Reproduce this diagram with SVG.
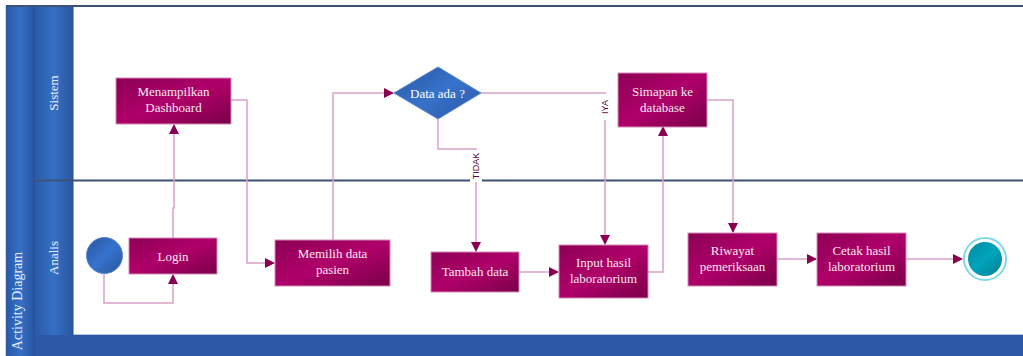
<svg xmlns="http://www.w3.org/2000/svg" width="1023" height="356" viewBox="0 0 1023 356">
<defs>
<linearGradient id="act" x1="0" y1="0" x2="1" y2="1">
<stop offset="0" stop-color="#8c0055"/>
<stop offset="0.5" stop-color="#b0006a"/>
<stop offset="1" stop-color="#7a0048"/>
</linearGradient>
<linearGradient id="blue" x1="0" y1="0" x2="1" y2="1">
<stop offset="0" stop-color="#2a56a0"/>
<stop offset="0.5" stop-color="#3672cc"/>
<stop offset="1" stop-color="#2a56a0"/>
</linearGradient>
<linearGradient id="laneh" x1="0" y1="0" x2="1" y2="0">
<stop offset="0" stop-color="#2b58a4"/>
<stop offset="0.5" stop-color="#3470c6"/>
<stop offset="1" stop-color="#2a55a0"/>
</linearGradient>
<linearGradient id="teal" x1="0" y1="0" x2="1" y2="1">
<stop offset="0" stop-color="#008aa0"/>
<stop offset="0.5" stop-color="#00a4bc"/>
<stop offset="1" stop-color="#007e94"/>
</linearGradient>
<marker id="arr" markerWidth="10" markerHeight="10" refX="9" refY="5" orient="auto" markerUnits="userSpaceOnUse">
<path d="M0,0 L10,5 L0,10 Z" fill="#8a0052"/>
</marker>
<style>
.act{fill:url(#act);stroke:#d48ab8;stroke-width:1}
.t{font-family:"Liberation Serif",serif;font-size:13px;fill:#f6e8f0;text-anchor:middle}
.c{fill:none;stroke:#d9a2c8;stroke-width:1.5;marker-end:url(#arr)}
.lbl{font-family:"Liberation Sans",sans-serif;font-size:9px;fill:#5a0038;text-anchor:middle}
.lane{font-family:"Liberation Serif",serif;font-size:13px;fill:#e8f0ff;text-anchor:middle}
</style>
</defs>
<rect x="0" y="0" width="1023" height="356" fill="#ffffff"/>
<g id="pool">
<rect x="6" y="6" width="28" height="350" fill="url(#laneh)"/>
<rect x="34" y="6" width="39" height="350" fill="url(#laneh)"/>
<rect x="33" y="335" width="990" height="21" fill="#2c58a6"/>
<line x1="73" y1="334.5" x2="1023" y2="334.5" stroke="#b8c8dc" stroke-width="1"/>
<line x1="73" y1="6" x2="73" y2="335" stroke="#24508f" stroke-width="1"/>
<line x1="34" y1="6" x2="34" y2="356" stroke="#27519a" stroke-width="1"/>
<line x1="6" y1="6" x2="1023" y2="6" stroke="#3e5373" stroke-width="2.2"/>
<line x1="34" y1="180.5" x2="1023" y2="180.5" stroke="#3e5373" stroke-width="2"/>
<line x1="5.5" y1="6" x2="5.5" y2="356" stroke="#cfd6e0" stroke-width="1"/>
<text class="lane" transform="translate(58,93) rotate(-90)">Sistem</text>
<text class="lane" transform="translate(58,258) rotate(-90)">Analis</text>
<text class="lane" style="font-size:14px" transform="translate(22,301) rotate(-90)">Activity Diagram</text>
</g>
<g id="connectors">
<path class="c" d="M173,238 V208 H174 V125"/>
<path class="c" d="M104,274 V303 H173 V275"/>
<path class="c" d="M231,100 H247 V263 H274"/>
<path class="c" d="M333,240 V93 H393"/>
<path class="c" d="M481,93 H605 V244"/>
<path class="c" d="M438,119 V149 H476 V251"/>
<path class="c" d="M519,272 H558"/>
<path class="c" d="M648,272 H663 V127"/>
<path class="c" d="M707,100 H733 V232"/>
<path class="c" d="M777,259 H816"/>
<path class="c" d="M906,259 H962"/>
<rect x="599" y="94" width="12" height="26" fill="#ffffff"/>
<text class="lbl" transform="translate(608,107) rotate(-90)">IYA</text>
<rect x="470" y="150" width="12" height="32" fill="#ffffff"/>
<text class="lbl" transform="translate(479,166) rotate(-90)">TIDAK</text>
</g>
<g id="start">
<circle cx="104.5" cy="255.5" r="18" fill="url(#blue)" stroke="#5a86cc" stroke-width="1"/>
</g>
<g id="login">
<rect class="act" x="129" y="238" width="88" height="36"/>
<text class="t" x="173" y="260.5">Login</text>
</g>
<g id="dashboard">
<rect class="act" x="116" y="78" width="115" height="46"/>
<text class="t" x="173.5" y="96">Menampilkan</text>
<text class="t" x="173.5" y="112">Dashboard</text>
</g>
<g id="memilih">
<rect class="act" x="275" y="240" width="115" height="46"/>
<text class="t" x="332.5" y="258">Memilih data</text>
<text class="t" x="332.5" y="274">pasien</text>
</g>
<g id="decision">
<polygon points="394,93 438,67 481,93 438,119" fill="url(#blue)" stroke="#5a86cc" stroke-width="1"/>
<text class="t" x="437.5" y="97.5" style="fill:#ffffff">Data ada ?</text>
</g>
<g id="tambah">
<rect class="act" x="431" y="252" width="88" height="40"/>
<text class="t" x="475" y="276">Tambah data</text>
</g>
<g id="input">
<rect class="act" x="559" y="245" width="89" height="53"/>
<text class="t" x="603.5" y="267">Input hasil</text>
<text class="t" x="603.5" y="283">laboratorium</text>
</g>
<g id="simpan">
<rect class="act" x="618" y="73" width="89" height="54"/>
<text class="t" x="662.5" y="96">Simapan ke</text>
<text class="t" x="662.5" y="112">database</text>
</g>
<g id="riwayat">
<rect class="act" x="688" y="233" width="89" height="53"/>
<text class="t" x="732.5" y="255">Riwayat</text>
<text class="t" x="732.5" y="271">pemeriksaan</text>
</g>
<g id="cetak">
<rect class="act" x="817" y="233" width="89" height="53"/>
<text class="t" x="861.5" y="255">Cetak hasil</text>
<text class="t" x="861.5" y="271">laboratorium</text>
</g>
<g id="end">
<circle cx="985" cy="259" r="21" fill="#ffffff" stroke="#7fd8e8" stroke-width="2"/>
<circle cx="985" cy="259" r="17" fill="url(#teal)"/>
</g>
</svg>
